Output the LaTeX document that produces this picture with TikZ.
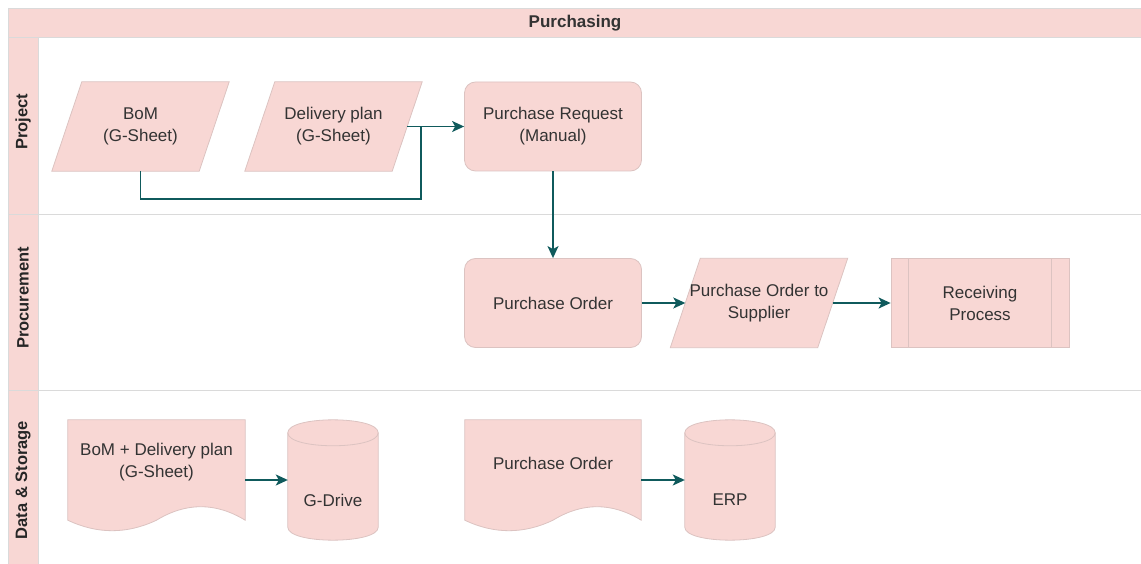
\documentclass[tikz,border=0pt]{standalone}
\usepackage{fontspec}
\setmainfont{Liberation Sans}
\usetikzlibrary{arrows.meta,calc}

\definecolor{shapefill}{HTML}{F8D7D4}
\definecolor{shapeline}{HTML}{DCC3C1}
\definecolor{laneline}{HTML}{DADADA}
\definecolor{flow}{HTML}{0F5A5C}
\definecolor{ink}{HTML}{333333}

\pgfdeclarelayer{lanes}
\pgfdeclarelayer{shapes}
\pgfsetlayers{lanes,shapes,main}

\tikzset{
  txt/.style={text=ink, font=\fontsize{17}{22}\selectfont, align=center, inner sep=0pt},
  frame/.style={txt, minimum width=177pt, minimum height=89pt},
  proc/.style={frame, draw=shapeline, fill=shapefill, line width=0.8pt, rounded corners=11pt},
  predef/.style={frame, draw=shapeline, fill=shapefill, line width=0.8pt},
  shapebody/.style={draw=shapeline, fill=shapefill, line width=0.8pt},
  flowline/.style={draw=flow, line width=1.4pt},
  link/.style={flowline, -{Stealth[length=12pt,width=11pt,inset=3pt]}},
  lanelabel/.style={font=\fontsize{16.5}{18}\bfseries\selectfont, text=black!85, rotate=90, inner sep=0pt},
  titletext/.style={font=\fontsize{17}{20}\bfseries\selectfont, text=ink, inner sep=0pt}
}

% parallelogram (data / input-output) drawn round an invisible frame node
\newcommand\slantshape[1]{%
  \path[shapebody] ([xshift=30pt]#1.north west) -- (#1.north east)
    -- ([xshift=-30pt]#1.south east) -- (#1.south west) -- cycle;}

% document shape with a wavy lower edge
\newcommand\docshape[1]{%
  \path[shapebody] (#1.north west) -- (#1.north east) -- (#1.south east)
    .. controls ($(#1.south east)!1/6!(#1.south west)+(0,-18)$)
            and ($(#1.south east)!2/6!(#1.south west)+(0,-18)$) .. (#1.south)
    .. controls ($(#1.south east)!4/6!(#1.south west)+(0,14)$)
            and ($(#1.south east)!5/6!(#1.south west)+(0,14)$) .. (#1.south west)
    -- cycle;}

% database cylinder
\newcommand\cylshape[1]{%
  \path[shapebody] ($(#1.north west)+(0,13)$) -- ($(#1.south west)+(0,-13)$)
    .. controls ($(#1.south west)+(0,4.3)$) and ($(#1.south east)+(0,4.3)$) .. ($(#1.south east)+(0,-13)$)
    -- ($(#1.north east)+(0,13)$)
    .. controls ($(#1.north east)+(0,-4.3)$) and ($(#1.north west)+(0,-4.3)$) .. ($(#1.north west)+(0,13)$)
    -- cycle;
  \path[draw=shapeline, line width=0.8pt] ($(#1.north west)+(0,13)$)
    .. controls ($(#1.north west)+(0,30.3)$) and ($(#1.north east)+(0,30.3)$) .. ($(#1.north east)+(0,13)$);}

\begin{document}
\begin{tikzpicture}[x=1pt,y=-1pt]
\useasboundingbox (0,0) rectangle (1141,564);

% ---- pool and lanes ----
\begin{pgfonlayer}{lanes}
  \fill[white] (0,0) rectangle (1141,564);
  \fill[shapefill] (8,8) rectangle (1141,37);
  \fill[shapefill] (8,37) rectangle (38,564);
  \draw[laneline, line width=0.8pt] (8,8) -- (1141,8);
  \draw[laneline, line width=0.8pt] (8,37) -- (1141,37);
  \draw[laneline, line width=0.8pt] (8,214) -- (1141,214);
  \draw[laneline, line width=0.8pt] (8,390) -- (1141,390);
  \draw[laneline, line width=0.8pt] (8,8) -- (8,564);
  \draw[laneline, line width=0.8pt] (38,37) -- (38,564);
\end{pgfonlayer}

\node[titletext] (pool) at (575,23) {Purchasing};
\node[lanelabel] (laneproject) at (23,122) {Project};
\node[lanelabel] (laneprocure) at (23,298) {Procurement};
\node[lanelabel] (lanedata) at (23,480) {Data \& Storage};

% ---- Project lane ----
\node[frame] (bom) at (140.5,126.5) {BoM\\(G-Sheet)};
\node[frame] (dplan) at (333.5,126.5) {Delivery plan\\(G-Sheet)};
\node[proc] (preq) at (553,126.5) {Purchase Request\\(Manual)};

% ---- Procurement lane ----
\node[proc] (porder) at (553,303) {Purchase Order};
\node[frame] (posup) at (759,303) {Purchase Order to\\Supplier};
\node[predef, minimum width=178pt] (recv) at (980,303) {Receiving\\Process};

% ---- Data & Storage lane ----
\node[frame, minimum height=100pt] (bomdoc) at (156.5,470) {};
\node[txt] (bomdoctext) at (156.5,462) {BoM + Delivery plan\\(G-Sheet)};
\node[frame, minimum width=90pt, minimum height=120pt] (gdrive) at (333,480) {};
\node[txt] (gdrivetext) at (333,500) {G-Drive};
\node[frame, minimum width=176pt, minimum height=100pt] (podoc) at (553,470) {};
\node[txt] (podoctext) at (553,463) {Purchase Order};
\node[frame, minimum width=90pt, minimum height=120pt] (erp) at (730,480) {};
\node[txt] (erptext) at (730,500) {ERP};

\begin{pgfonlayer}{shapes}
  \slantshape{bom}
  \slantshape{dplan}
  \slantshape{posup}
  \docshape{bomdoc}
  \docshape{podoc}
  \cylshape{gdrive}
  \cylshape{erp}
\end{pgfonlayer}
\draw[shapeline, line width=0.8pt] ([xshift=18pt]recv.north west) -- ([xshift=18pt]recv.south west);
\draw[shapeline, line width=0.8pt] ([xshift=-18pt]recv.north east) -- ([xshift=-18pt]recv.south east);

% ---- connectors ----
\coordinate (merge) at (421,126.5);
\coordinate (bend) at (421,199);
\draw[flowline] (bom.south) |- (bend) -- (merge);
\draw[link] ([xshift=-15pt]dplan.east) -- (preq.west);
\draw[link] (preq.south) -- (porder.north);
\draw[link] (porder.east) -- ([xshift=15pt]posup.west);
\draw[link] ([xshift=-15pt]posup.east) -- (recv.west);
\draw[link] (bomdoc.east |- gdrive.west) -- (gdrive.west);
\draw[link] (podoc.east |- erp.west) -- (erp.west);
\end{tikzpicture}
\end{document}
